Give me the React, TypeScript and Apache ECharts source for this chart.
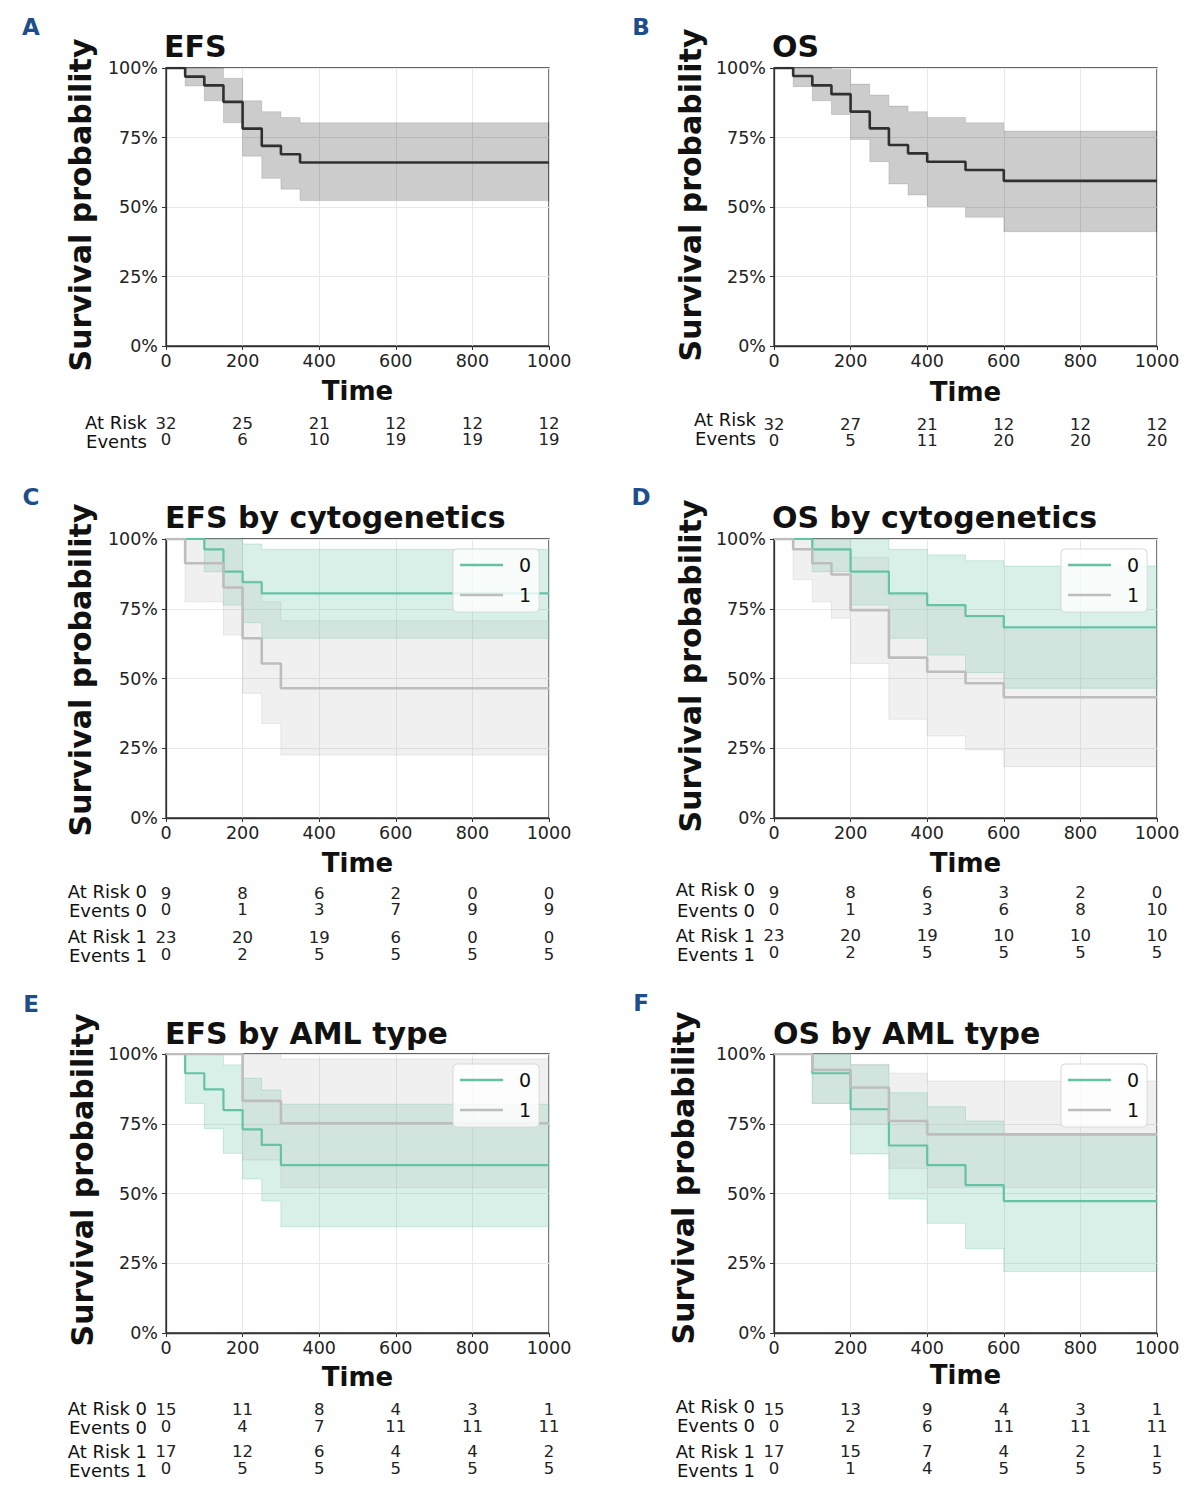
import React, { useEffect, useRef } from "react";
import * as echarts from "echarts";

const FONT = "DejaVu Sans";
const XMAX = 1000;
const TICK_TIMES = [0, 200, 400, 600, 800, 1000];

// ---- Panel A: EFS ----
const efsTimes = [0, 50, 100, 150, 200, 250, 300, 350];
const efsSurv = [1, 0.969, 0.9375, 0.878, 0.782, 0.72, 0.69, 0.66];
const efsUpper = [1, 1, 1, 0.963, 0.882, 0.843, 0.822, 0.803];
const efsLower = [1, 0.935, 0.882, 0.803, 0.683, 0.603, 0.564, 0.523];
const efsAtRisk = [32, 25, 21, 12, 12, 12];
const efsEvents = [0, 6, 10, 19, 19, 19];

// ---- Panel B: OS ----
const osTimes = [0, 50, 100, 150, 200, 250, 300, 350, 400, 500, 600];
const osSurv = [1, 0.971, 0.9375, 0.906, 0.843, 0.783, 0.723, 0.693, 0.663, 0.633, 0.594];
const osUpper = [1, 1, 1, 0.995, 0.942, 0.903, 0.863, 0.843, 0.822, 0.803, 0.773];
const osLower = [1, 0.933, 0.882, 0.833, 0.743, 0.663, 0.583, 0.543, 0.501, 0.463, 0.411];
const osAtRisk = [32, 27, 21, 12, 12, 12];
const osEvents = [0, 5, 11, 20, 20, 20];

// ---- Panel C: EFS by cytogenetics ----
const efsCyto0Times = [0, 100, 150, 200, 250];
const efsCyto0Surv = [1, 0.963, 0.883, 0.845, 0.805];
const efsCyto0Upper = [1, 1, 1, 0.982, 0.963];
const efsCyto0Lower = [1, 0.883, 0.763, 0.7, 0.644];
const efsCyto1Times = [0, 50, 150, 200, 250, 300];
const efsCyto1Surv = [1, 0.913, 0.826, 0.644, 0.554, 0.465];
const efsCyto1Upper = [1, 1, 1, 0.85, 0.775, 0.707];
const efsCyto1Lower = [1, 0.775, 0.656, 0.447, 0.339, 0.226];
const efsCyto0AtRisk = [9, 8, 6, 2, 0, 0];
const efsCyto0Events = [0, 1, 3, 7, 9, 9];
const efsCyto1AtRisk = [23, 20, 19, 6, 0, 0];
const efsCyto1Events = [0, 2, 5, 5, 5, 5];

// ---- Panel D: OS by cytogenetics ----
const osCyto0Times = [0, 100, 200, 300, 400, 500, 600];
const osCyto0Surv = [1, 0.963, 0.883, 0.805, 0.763, 0.724, 0.683];
const osCyto0Upper = [1, 1, 1, 0.963, 0.943, 0.922, 0.903];
const osCyto0Lower = [1, 0.883, 0.763, 0.644, 0.584, 0.521, 0.465];
const osCyto1Times = [0, 50, 100, 150, 200, 300, 400, 500, 600];
const osCyto1Surv = [1, 0.963, 0.913, 0.873, 0.745, 0.575, 0.524, 0.483, 0.433];
const osCyto1Upper = [1, 1, 1, 1, 0.934, 0.799, 0.757, 0.72, 0.674];
const osCyto1Lower = [1, 0.855, 0.775, 0.716, 0.554, 0.354, 0.294, 0.244, 0.184];
const osCyto0AtRisk = [9, 8, 6, 3, 2, 0];
const osCyto0Events = [0, 1, 3, 6, 8, 10];
const osCyto1AtRisk = [23, 20, 19, 10, 10, 10];
const osCyto1Events = [0, 2, 5, 5, 5, 5];

// ---- Panel E: EFS by AML type ----
const efsAml0Times = [0, 50, 100, 150, 200, 250, 300];
const efsAml0Surv = [1, 0.931, 0.873, 0.799, 0.73, 0.674, 0.602];
const efsAml0Upper = [1, 1, 1, 0.961, 0.913, 0.871, 0.82];
const efsAml0Lower = [1, 0.823, 0.733, 0.644, 0.552, 0.473, 0.381];
const efsAml1Times = [0, 200, 300];
const efsAml1Surv = [1, 0.832, 0.752];
const efsAml1Upper = [1, 1, 0.982];
const efsAml1Lower = [1, 0.62, 0.521];
const efsAml0AtRisk = [15, 11, 8, 4, 3, 1];
const efsAml0Events = [0, 4, 7, 11, 11, 11];
const efsAml1AtRisk = [17, 12, 6, 4, 4, 2];
const efsAml1Events = [0, 5, 5, 5, 5, 5];

// ---- Panel F: OS by AML type ----
const osAml0Times = [0, 100, 200, 300, 400, 500, 600];
const osAml0Surv = [1, 0.931, 0.802, 0.672, 0.602, 0.53, 0.473];
const osAml0Upper = [1, 1, 0.961, 0.861, 0.811, 0.76, 0.71];
const osAml0Lower = [1, 0.823, 0.642, 0.48, 0.393, 0.303, 0.22];
const osAml1Times = [0, 100, 200, 300, 400];
const osAml1Surv = [1, 0.943, 0.88, 0.76, 0.712];
const osAml1Upper = [1, 1, 0.963, 0.931, 0.903];
const osAml1Lower = [1, 0.823, 0.749, 0.59, 0.521];
const osAml0AtRisk = [15, 13, 9, 4, 3, 1];
const osAml0Events = [0, 2, 6, 11, 11, 11];
const osAml1AtRisk = [17, 15, 7, 4, 2, 1];
const osAml1Events = [0, 1, 4, 5, 5, 5];

const DARK = { line: "#303030", fill: "rgba(0,0,0,0.2)", stroke: "rgba(0,0,0,0.12)", width: 2.6 };
const TEAL = { line: "#66c2a5", fill: "rgba(102,194,165,0.25)", stroke: "rgba(102,194,165,0.3)", width: 2.2 };
const GREY = { line: "#bdbdbd", fill: "rgba(179,179,179,0.2)", stroke: "rgba(179,179,179,0.25)", width: 2.6 };

type Group = {
  name: string;
  times: number[];
  surv: number[];
  upper: number[];
  lower: number[];
  atRisk: number[];
  events: number[];
  color: typeof DARK;
  rowLabels: [string, string];
};

type Panel = {
  letter: string;
  title: string;
  left: number;
  top: number;
  height: number;
  groups: Group[];
  legend: boolean;
  letterPos: [number, number];
  titlePos: [number, number];
  yLabelPos: [number, number];
  timeY: number;
  tableOffsets: number[];
  labelX: number;
  labelYs: number[];
  legendPos?: [number, number];
};

const W = 383;

const panels: Panel[] = [
  {
    letter: "A", title: "EFS", left: 166, top: 68, height: 278, legend: false,
    letterPos: [31, 27], titlePos: [164, 46], yLabelPos: [80, 205], timeY: 391,
    tableOffsets: [69], labelX: 147, labelYs: [422.5, 441.5],
    groups: [{ name: "EFS", times: efsTimes, surv: efsSurv, upper: efsUpper, lower: efsLower, atRisk: efsAtRisk, events: efsEvents, color: DARK, rowLabels: ["At Risk", "Events"] }],
  },
  {
    letter: "B", title: "OS", left: 774, top: 68, height: 278, legend: false,
    letterPos: [641, 27], titlePos: [772, 46], yLabelPos: [690, 195], timeY: 392,
    tableOffsets: [70], labelX: 756, labelYs: [419, 438],
    groups: [{ name: "OS", times: osTimes, surv: osSurv, upper: osUpper, lower: osLower, atRisk: osAtRisk, events: osEvents, color: DARK, rowLabels: ["At Risk", "Events"] }],
  },
  {
    letter: "C", title: "EFS by cytogenetics", left: 166, top: 539, height: 279, legend: true,
    letterPos: [31, 497], titlePos: [165, 517], yLabelPos: [80, 670], timeY: 863,
    tableOffsets: [67, 111.5], labelX: 147, labelYs: [891.5, 910.5, 936.5, 955.5], legendPos: [453, 549],
    groups: [
      { name: "0", times: efsCyto0Times, surv: efsCyto0Surv, upper: efsCyto0Upper, lower: efsCyto0Lower, atRisk: efsCyto0AtRisk, events: efsCyto0Events, color: TEAL, rowLabels: ["At Risk 0", "Events 0"] },
      { name: "1", times: efsCyto1Times, surv: efsCyto1Surv, upper: efsCyto1Upper, lower: efsCyto1Lower, atRisk: efsCyto1AtRisk, events: efsCyto1Events, color: GREY, rowLabels: ["At Risk 1", "Events 1"] },
    ],
  },
  {
    letter: "D", title: "OS by cytogenetics", left: 774, top: 539, height: 279, legend: true,
    letterPos: [641, 497], titlePos: [772, 517], yLabelPos: [690, 666], timeY: 863,
    tableOffsets: [66.5, 109.5], labelX: 755, labelYs: [889, 910, 935.5, 954.5], legendPos: [1061, 549],
    groups: [
      { name: "0", times: osCyto0Times, surv: osCyto0Surv, upper: osCyto0Upper, lower: osCyto0Lower, atRisk: osCyto0AtRisk, events: osCyto0Events, color: TEAL, rowLabels: ["At Risk 0", "Events 0"] },
      { name: "1", times: osCyto1Times, surv: osCyto1Surv, upper: osCyto1Upper, lower: osCyto1Lower, atRisk: osCyto1AtRisk, events: osCyto1Events, color: GREY, rowLabels: ["At Risk 1", "Events 1"] },
    ],
  },
  {
    letter: "E", title: "EFS by AML type", left: 166, top: 1054, height: 279, legend: true,
    letterPos: [31, 1004], titlePos: [165, 1033], yLabelPos: [82, 1180], timeY: 1377,
    tableOffsets: [68.5, 110.5], labelX: 147, labelYs: [1408.5, 1427.5, 1451, 1470], legendPos: [453, 1064],
    groups: [
      { name: "0", times: efsAml0Times, surv: efsAml0Surv, upper: efsAml0Upper, lower: efsAml0Lower, atRisk: efsAml0AtRisk, events: efsAml0Events, color: TEAL, rowLabels: ["At Risk 0", "Events 0"] },
      { name: "1", times: efsAml1Times, surv: efsAml1Surv, upper: efsAml1Upper, lower: efsAml1Lower, atRisk: efsAml1AtRisk, events: efsAml1Events, color: GREY, rowLabels: ["At Risk 1", "Events 1"] },
    ],
  },
  {
    letter: "F", title: "OS by AML type", left: 774, top: 1054, height: 279, legend: true,
    letterPos: [641, 1003], titlePos: [773, 1033], yLabelPos: [683, 1178], timeY: 1375,
    tableOffsets: [68.5, 110.5], labelX: 755, labelYs: [1406, 1425, 1451, 1470], legendPos: [1061, 1064],
    groups: [
      { name: "0", times: osAml0Times, surv: osAml0Surv, upper: osAml0Upper, lower: osAml0Lower, atRisk: osAml0AtRisk, events: osAml0Events, color: TEAL, rowLabels: ["At Risk 0", "Events 0"] },
      { name: "1", times: osAml1Times, surv: osAml1Surv, upper: osAml1Upper, lower: osAml1Lower, atRisk: osAml1AtRisk, events: osAml1Events, color: GREY, rowLabels: ["At Risk 1", "Events 1"] },
    ],
  },
];

function buildOption() {
  const grids: any[] = [];
  const xAxes: any[] = [];
  const yAxes: any[] = [];
  const series: any[] = [];
  const legends: any[] = [];
  const graphics: any[] = [];

  panels.forEach((p, gi) => {
    grids.push({
      left: p.left, top: p.top, width: W, height: p.height,
      show: true, borderColor: "#333", borderWidth: 1.3, backgroundColor: "transparent",
      containLabel: false, outerBoundsMode: "none",
    });
    const mainX = xAxes.length;
    xAxes.push({
      gridIndex: gi, type: "value", min: 0, max: XMAX, interval: 200,
      axisLine: { show: true, onZero: false, lineStyle: { color: "#333", width: 1.3 } },
      axisTick: { show: true, length: 4, lineStyle: { color: "#333" } },
      splitLine: { show: true, lineStyle: { color: "#e8e8e8", width: 1 } },
      axisLabel: { margin: 6, fontSize: 17.5, fontFamily: FONT, color: "#222", formatter: (v: number) => String(Math.round(v)) },
    });
    p.groups.forEach((g, k) => {
      xAxes.push({
        gridIndex: gi, type: "value", min: 0, max: XMAX, interval: 200, position: "bottom",
        offset: p.tableOffsets[k],
        axisLine: { show: false }, axisTick: { show: false }, splitLine: { show: false },
        axisLabel: {
          margin: 0, fontSize: 16.5, lineHeight: 16.5, fontFamily: FONT, color: "#222",
          showMinLabel: true, showMaxLabel: true,
          formatter: (v: number) => {
            const idx = TICK_TIMES.indexOf(Math.round(v));
            return idx < 0 ? "" : `${g.atRisk[idx]}\n${g.events[idx]}`;
          },
        },
      });
    });
    yAxes.push({
      gridIndex: gi, type: "value", min: 0, max: 1, interval: 0.25,
      axisLine: { show: true, lineStyle: { color: "#333", width: 1.3 } },
      axisTick: { show: true, length: 4, lineStyle: { color: "#333" } },
      splitLine: { show: true, lineStyle: { color: "#e8e8e8", width: 1 } },
      axisLabel: { margin: 8, fontSize: 17.5, fontFamily: FONT, color: "#222", formatter: (v: number) => `${Math.round(v * 100)}%` },
    });

    // confidence bands
    p.groups.forEach((g, k) => {
      series.push({
        type: "custom", name: `band-${p.letter}-${k}`, xAxisIndex: mainX, yAxisIndex: gi,
        silent: true, z: 2, data: [[0, 0]],
        renderItem: (_params: any, api: any) => {
          const pts: number[][] = [];
          const n = g.times.length;
          for (let i = 0; i < n; i++) {
            const t1 = i + 1 < n ? g.times[i + 1] : XMAX;
            pts.push(api.coord([g.times[i], g.upper[i]]));
            pts.push(api.coord([t1, g.upper[i]]));
          }
          for (let i = n - 1; i >= 0; i--) {
            const t1 = i + 1 < n ? g.times[i + 1] : XMAX;
            pts.push(api.coord([t1, g.lower[i]]));
            pts.push(api.coord([g.times[i], g.lower[i]]));
          }
          return { type: "polygon", shape: { points: pts }, style: { fill: g.color.fill, stroke: g.color.stroke, lineWidth: 1 } };
        },
      });
    });
    // survival step lines
    p.groups.forEach((g) => {
      const data = g.times.map((t, i) => [t, g.surv[i]]);
      data.push([XMAX, g.surv[g.surv.length - 1]]);
      series.push({
        type: "line", name: g.name, xAxisIndex: mainX, yAxisIndex: gi, step: "end",
        showSymbol: false, symbol: "none", z: 3, color: g.color.line,
        lineStyle: { color: g.color.line, width: g.color.width },
        data,
      });
    });

    if (p.legend && p.legendPos) {
      legends.push({
        left: p.legendPos[0], top: p.legendPos[1], orient: "vertical",
        itemWidth: 43, itemHeight: 2.5, itemGap: 8, padding: [5, 8, 6, 7],
        backgroundColor: "rgba(255,255,255,0.82)", borderColor: "#d9d9d9", borderWidth: 1, borderRadius: 4,
        selectedMode: false, z: 10,
        textStyle: { fontSize: 19, fontFamily: FONT, color: "#111", lineHeight: 22, padding: [0, 0, 0, 11] },
        data: [{ name: "0", icon: "rect" }, { name: "1", icon: "rect" }],
      });
    }

    graphics.push({
      type: "text", x: p.letterPos[0], y: p.letterPos[1],
      style: { text: p.letter, fontSize: 23, fontWeight: "bold", fontFamily: FONT, fill: "#1d4e89", align: "center", verticalAlign: "middle" },
    });
    graphics.push({
      type: "text", x: p.titlePos[0], y: p.titlePos[1],
      style: { text: p.title, fontSize: 30, fontWeight: "bold", fontFamily: FONT, fill: "#111", align: "left", verticalAlign: "middle" },
    });
    graphics.push({
      type: "text", x: p.yLabelPos[0], y: p.yLabelPos[1], rotation: Math.PI / 2,
      style: { text: "Survival probability", fontSize: 30, fontWeight: "bold", fontFamily: FONT, fill: "#111", align: "center", verticalAlign: "middle" },
    });
    graphics.push({
      type: "text", x: p.left + W / 2, y: p.timeY,
      style: { text: "Time", fontSize: 26, fontWeight: "bold", fontFamily: FONT, fill: "#111", align: "center", verticalAlign: "middle" },
    });
    let li = 0;
    p.groups.forEach((g) => {
      g.rowLabels.forEach((lab) => {
        graphics.push({
          type: "text", x: p.labelX, y: p.labelYs[li++],
          style: { text: lab, fontSize: 18, fontFamily: FONT, fill: "#111", align: "right", verticalAlign: "middle" },
        });
      });
    });
  });

  return {
    animation: false,
    backgroundColor: "#ffffff",
    grid: grids,
    xAxis: xAxes,
    yAxis: yAxes,
    series,
    legend: legends,
    graphic: graphics,
  };
}

export default function App() {
  const ref = useRef<HTMLDivElement>(null);
  useEffect(() => {
    document.body.style.margin = "0";
    if (!ref.current) return;
    const chart = echarts.init(ref.current, undefined, { renderer: "svg", width: 1192, height: 1494 });
    chart.setOption(buildOption() as any);
    return () => chart.dispose();
  }, []);
  return <div ref={ref} style={{ width: 1192, height: 1494 }} />;
}
